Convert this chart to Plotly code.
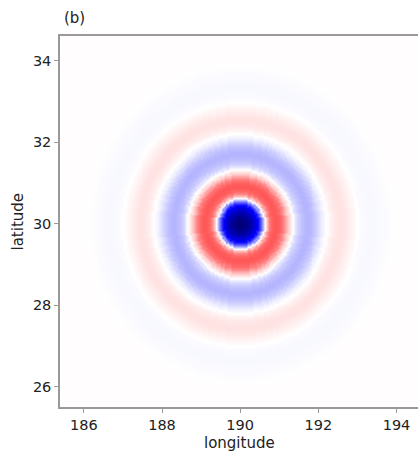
import numpy as np
import plotly.graph_objects as go

# Radial profile (distance from centre in degrees -> field value)
radius_step = 0.05
field_value = [
    -0.88, -0.88, -0.86, -0.83, -0.80, -0.75, -0.70, -0.63, -0.56, -0.47,   # 0.00-0.45
    -0.36, -0.22, -0.06, 0.08, 0.19, 0.26, 0.30, 0.32, 0.33, 0.325,        # 0.50-0.95
    0.31, 0.285, 0.25, 0.19, 0.13, 0.075, 0.03, -0.01, -0.05, -0.08,        # 1.00-1.45
    -0.10, -0.12, -0.13, -0.14, -0.145, -0.145, -0.135, -0.125, -0.11, -0.09,  # 1.50-1.95
    -0.07, -0.05, -0.03, -0.015, 0.0, 0.012, 0.025, 0.035, 0.045, 0.05,     # 2.00-2.45
    0.055, 0.055, 0.055, 0.05, 0.045, 0.038, 0.03, 0.022, 0.015, 0.007,     # 2.50-2.95
    0.0, -0.004, -0.008, -0.01, -0.012, -0.013, -0.014, -0.014, -0.014, -0.013,  # 3.00-3.45
    -0.012, -0.011, -0.01, -0.008, -0.007, -0.005, -0.004, -0.002, -0.001, 0.001,  # 3.50-3.95
    0.004,                                                                   # 4.00+
]

centre_lon = 190.0
centre_lat = 30.0

lon = np.round(np.arange(185.3, 194.71, 0.05), 3)
lat = np.round(np.arange(25.4, 34.71, 0.05), 3)

xt = [186, 188, 190, 192, 194]
yt = [26, 28, 30, 32, 34]

# build the grid table by nearest-radius lookup of the profile
prof = np.array(field_value)
LON, LAT = np.meshgrid(lon, lat)
idx = np.rint(np.hypot(LON - centre_lon, LAT - centre_lat) / radius_step).astype(int)
idx = np.clip(idx, 0, len(prof) - 1)
Z = prof[idx]

seismic = [[0.0, 'rgb(0,0,77)'], [0.25, 'rgb(0,0,255)'], [0.5, 'rgb(255,255,255)'],
           [0.75, 'rgb(255,0,0)'], [1.0, 'rgb(128,0,0)']]

fig = go.Figure(go.Heatmap(x=lon, y=lat, z=Z, colorscale=seismic, zmin=-1, zmax=1,
                           zsmooth='best', showscale=False, hoverinfo='skip'))

axcol = '#999999'
txtcol = '#222222'
fig.update_layout(
    width=418, height=451,
    margin=dict(l=60, r=0, t=36, b=44),
    paper_bgcolor='white', plot_bgcolor='white',
    font=dict(family='DejaVu Sans', size=14.5, color=txtcol),
    xaxis=dict(range=[185.39, 194.55], tickvals=xt, ticktext=[str(v) for v in xt],
               showline=True, mirror=True, linecolor=axcol, linewidth=1.5,
               ticks='outside', ticklen=4, tickcolor=axcol, showgrid=False, zeroline=False),
    yaxis=dict(range=[25.5, 34.61], tickvals=yt, ticktext=[str(v) for v in yt],
               showline=True, mirror=False, linecolor=axcol, linewidth=1.5,
               ticks='outside', ticklen=4, tickcolor=axcol, showgrid=False, zeroline=False),
    annotations=[
        dict(text='(b)', xref='paper', yref='paper', x=0.005, y=1.0, yshift=18,
             xanchor='left', yanchor='middle', showarrow=False, font=dict(size=15, color=txtcol)),
        dict(text='longitude', xref='paper', yref='paper', x=0.5, y=0, yshift=-36,
             xanchor='center', yanchor='middle', showarrow=False, font=dict(size=15, color=txtcol)),
        dict(text='latitude', xref='paper', yref='paper', x=0, xshift=-43, y=0.5,
             xanchor='center', yanchor='middle', textangle=-90, showarrow=False,
             font=dict(size=15, color=txtcol)),
    ],
)

fig.write_html('out.html', config={'displayModeBar': False},
               post_script="document.body.style.margin='0';document.body.style.overflow='hidden';")
